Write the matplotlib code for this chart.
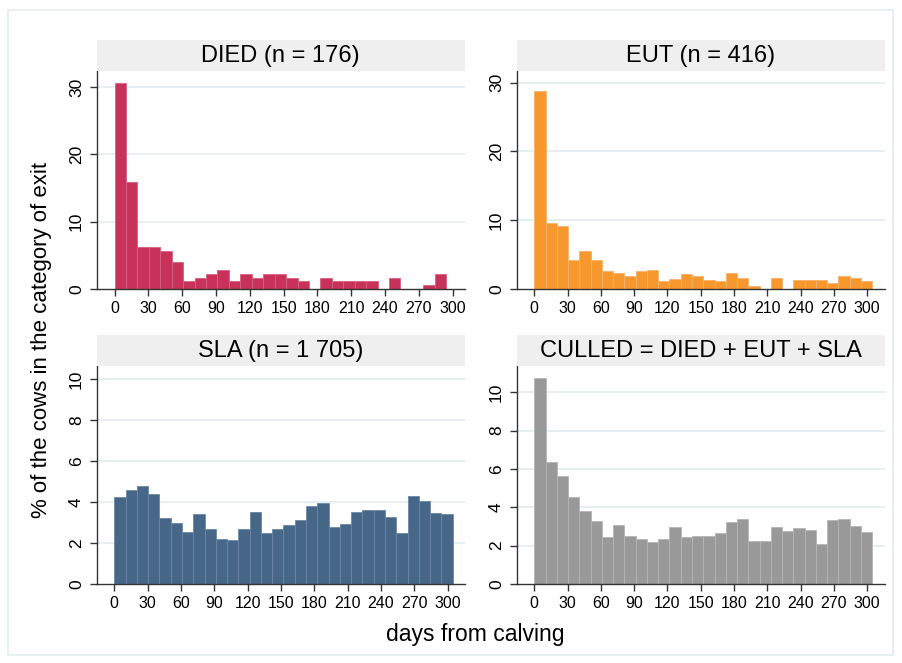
import matplotlib
matplotlib.use('Agg')
import matplotlib.pyplot as plt
from matplotlib.patches import Rectangle
import numpy as np

plt.rcParams['font.family'] = ['Liberation Sans', 'DejaVu Sans']

# histogram bins (days from calving), width ~10.15 days starting at 0
bin_width = 10.15
x_ticks = [0, 30, 60, 90, 120, 150, 180, 210, 240, 270, 300]

# % of cows per bin for each exit category
died_pct = [30.68, 15.85, 6.16, 6.16, 5.62, 3.95, 1.12, 1.66, 2.24, 2.80, 1.12, 2.24,
            1.66, 2.24, 2.24, 1.66, 1.12, 0, 1.66, 1.12, 1.12, 1.12, 1.12, 0, 1.66,
            0, 0, 0.56, 2.24]
eut_pct = [28.85, 9.56, 9.12, 4.24, 5.46, 4.24, 2.59, 2.34, 1.80, 2.59, 2.78, 1.12,
           1.37, 2.10, 1.82, 1.31, 1.12, 2.28, 1.55, 0.39, 0, 1.55, 0, 1.31, 1.31,
           1.31, 0.87, 1.84, 1.55, 1.12]
sla_pct = [4.22, 4.57, 4.76, 4.40, 3.22, 2.98, 2.55, 3.40, 2.68, 2.21, 2.14, 2.68,
           3.51, 2.50, 2.68, 2.86, 3.14, 3.80, 3.97, 2.78, 2.94, 3.51, 3.63, 3.63,
           3.27, 2.47, 4.27, 4.03, 3.45, 3.40]
culled_pct = [10.73, 6.35, 5.65, 4.52, 3.83, 3.29, 2.47, 3.08, 2.50, 2.35, 2.19, 2.37,
              2.99, 2.43, 2.48, 2.50, 2.64, 3.25, 3.37, 2.24, 2.24, 2.98, 2.78, 2.94,
              2.81, 2.07, 3.34, 3.37, 3.04, 2.73]

titles = ['DIED (n = 176)', 'EUT (n = 416)', 'SLA (n = 1 705)', 'CULLED = DIED + EUT + SLA']
series = [died_pct, eut_pct, sla_pct, culled_pct]
colors = ['#C8325A', '#F7982F', '#476789', '#999999']
edge_colors = ['#D86080', '#FAB36A', '#6C87A4', '#B5B5B5']
y_ticks = [[0, 10, 20, 30], [0, 10, 20, 30], [0, 2, 4, 6, 8, 10], [0, 2, 4, 6, 8, 10]]
y_lims = [32.4, 31.7, 10.63, 11.37]
x_lims = [(-16, 311), (-16, 316), (-16, 315.6), (-16, 316)]

# axes boxes in pixels: left, top, right, bottom
W, H = 902, 663
boxes = [(96.5, 71, 465, 288.7), (516.5, 71, 885, 288.7),
         (96.5, 366, 465, 584), (516.5, 366, 885, 584)]
strip_h = 31

fig = plt.figure(figsize=(W / 100, H / 100), dpi=100)
fig.patch.set_facecolor('white')

# light outer frame
fig.patches.append(Rectangle((8 / W, 1 - 655 / H), 885 / W, 645 / H, transform=fig.transFigure,
                             fill=False, edgecolor='#E3EDEF', linewidth=1.2))

for i in range(4):
	x0, y0, x1, y1 = boxes[i]
	ax = fig.add_axes([x0 / W, 1 - y1 / H, (x1 - x0) / W, (y1 - y0) / H])
	vals = np.array(series[i])
	lefts = np.arange(len(vals)) * bin_width
	ax.bar(lefts, vals, width=bin_width, align='edge', color=colors[i],
	       edgecolor=edge_colors[i], linewidth=0.6, zorder=2)

	ax.set_xlim(*x_lims[i])
	ax.set_ylim(0, y_lims[i])
	ax.set_xticks(x_ticks)
	ax.set_yticks(y_ticks[i])
	ax.set_yticklabels([str(t) for t in y_ticks[i]], rotation=90, va='center')
	ax.tick_params(axis='both', direction='out', length=5, width=1, colors='#333333',
	               labelcolor='black', pad=4)
	ax.tick_params(axis='x', labelsize=11.5)
	ax.tick_params(axis='y', labelsize=12.5)
	for t in y_ticks[i][1:]:
		ax.axhline(t, color='#E0ECF0', linewidth=1.2, zorder=1)

	for s in ['top', 'right']:
		ax.spines[s].set_visible(False)
	for s in ['left', 'bottom']:
		ax.spines[s].set_color('#333333')
		ax.spines[s].set_linewidth(1)

	# grey title strip above each panel
	sx = fig.add_axes([x0 / W, 1 - y0 / H, (x1 - x0) / W, strip_h / H])
	sx.set_facecolor('#EFEFEF')
	sx.set_xticks([])
	sx.set_yticks([])
	for s in sx.spines.values():
		s.set_visible(False)
	sx.text(0.5, 0.47, titles[i], ha='center', va='center', fontsize=17, transform=sx.transAxes)

fig.text(42 / W, 1 - 340 / H, '% of the cows in the category of exit', rotation=90,
         ha='center', va='center', fontsize=16)
fig.text(475 / W, 1 - 635 / H, 'days from calving', ha='center', va='center', fontsize=16.5)

fig.savefig('out.png', dpi=100)
